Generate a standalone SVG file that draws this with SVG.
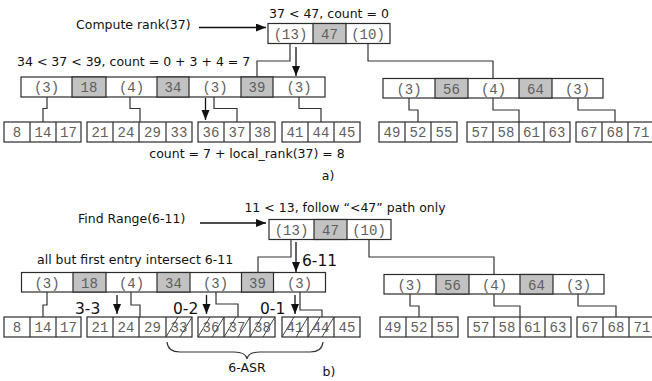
<svg xmlns="http://www.w3.org/2000/svg" width="652" height="381" viewBox="0 0 652 381">
  <style>
    .cell { fill: #ffffff; stroke: #2b2b2b; stroke-width: 1.2; }
    .key { fill: #c2c2c2; stroke: #2b2b2b; stroke-width: 1.2; }
    .div { stroke: #2b2b2b; stroke-width: 1.2; }
    .mono { font-family: "Liberation Mono", "DejaVu Sans Mono", monospace; font-size: 14px; fill: #5e5e5e; text-anchor: middle; }
    .lbl { font-family: "DejaVu Sans", Verdana, sans-serif; font-size: 12.5px; fill: #111; }
    .big { font-family: "DejaVu Sans", Verdana, sans-serif; font-size: 15.5px; fill: #111; }
    .wire { fill: none; stroke: #333; stroke-width: 1.2; }
    .arrow { fill: none; stroke: #111; stroke-width: 1.3; marker-end: url(#head); }
    .hatch { stroke: #333; stroke-width: 0.9; }
  </style>
  <defs>
    <marker id="head" markerUnits="userSpaceOnUse" markerWidth="12" markerHeight="10" refX="10" refY="4" orient="auto">
      <path d="M0,0 L10,4 L0,8 Z" fill="#111"/>
    </marker>
  </defs>

  <!-- ===================== a) rank query ===================== -->
  <g id="a-labels">
    <text class="lbl" x="329" y="17.5" text-anchor="middle">37 &lt; 47, count = 0</text>
    <text class="lbl" x="76" y="28.5">Compute rank(37)</text>
    <text class="lbl" x="17" y="66">34 &lt; 37 &lt; 39, count = 0 + 3 + 4 = 7</text>
    <text class="lbl" x="247" y="157.5" text-anchor="middle">count = 7 + local_rank(37) = 8</text>
    <text class="lbl" x="328" y="180" text-anchor="middle">a)</text>
  </g>

  <g id="a-root">
    <rect class="cell" x="268" y="23.5" width="122" height="20"/>
    <rect class="key" x="313" y="23.5" width="33" height="20"/>
    <text class="mono" x="290.5" y="38.5">(13)</text>
    <text class="mono" x="329.5" y="38.5">47</text>
    <text class="mono" x="368" y="38.5">(10)</text>
  </g>

  <g id="a-inner-left">
    <rect class="cell" x="21" y="77" width="304" height="20"/>
    <rect class="key" x="72" y="77" width="34" height="20"/>
    <rect class="key" x="157" y="77" width="32" height="20"/>
    <rect class="key" x="241" y="77" width="32" height="20"/>
    <text class="mono" x="46.5" y="92">(3)</text>
    <text class="mono" x="89" y="92">18</text>
    <text class="mono" x="131.5" y="92">(4)</text>
    <text class="mono" x="173" y="92">34</text>
    <text class="mono" x="215" y="92">(3)</text>
    <text class="mono" x="257" y="92">39</text>
    <text class="mono" x="299" y="92">(3)</text>
  </g>

  <g id="a-inner-right">
    <rect class="cell" x="383" y="78.5" width="220" height="19.5"/>
    <rect class="key" x="435" y="78.5" width="33" height="19.5"/>
    <rect class="key" x="519" y="78.5" width="33" height="19.5"/>
    <text class="mono" x="409" y="93.5">(3)</text>
    <text class="mono" x="451.5" y="93.5">56</text>
    <text class="mono" x="493.5" y="93.5">(4)</text>
    <text class="mono" x="535.5" y="93.5">64</text>
    <text class="mono" x="577.5" y="93.5">(3)</text>
  </g>

  <g id="a-leaf-1">
    <rect class="cell" x="4" y="122" width="77" height="20"/>
    <line class="div" x1="30" y1="122" x2="30" y2="142"/>
    <line class="div" x1="56" y1="122" x2="56" y2="142"/>
    <text class="mono" x="17" y="137">8</text>
    <text class="mono" x="43" y="137">14</text>
    <text class="mono" x="68.5" y="137">17</text>
  </g>
  <g id="a-leaf-2">
    <rect class="cell" x="87" y="122" width="105" height="20"/>
    <line class="div" x1="113" y1="122" x2="113" y2="142"/>
    <line class="div" x1="139" y1="122" x2="139" y2="142"/>
    <line class="div" x1="166" y1="122" x2="166" y2="142"/>
    <text class="mono" x="100" y="137">21</text>
    <text class="mono" x="126" y="137">24</text>
    <text class="mono" x="152.5" y="137">29</text>
    <text class="mono" x="179" y="137">33</text>
  </g>
  <g id="a-leaf-3">
    <rect class="cell" x="198" y="122" width="77" height="20"/>
    <line class="div" x1="224" y1="122" x2="224" y2="142"/>
    <line class="div" x1="250" y1="122" x2="250" y2="142"/>
    <text class="mono" x="211" y="137">36</text>
    <text class="mono" x="237" y="137">37</text>
    <text class="mono" x="262.5" y="137">38</text>
  </g>
  <g id="a-leaf-4">
    <rect class="cell" x="282" y="122" width="78" height="20"/>
    <line class="div" x1="308" y1="122" x2="308" y2="142"/>
    <line class="div" x1="334" y1="122" x2="334" y2="142"/>
    <text class="mono" x="295" y="137">41</text>
    <text class="mono" x="321" y="137">44</text>
    <text class="mono" x="347" y="137">45</text>
  </g>
  <g id="a-leaf-5">
    <rect class="cell" x="379" y="122" width="78" height="20"/>
    <line class="div" x1="405" y1="122" x2="405" y2="142"/>
    <line class="div" x1="431" y1="122" x2="431" y2="142"/>
    <text class="mono" x="392" y="137">49</text>
    <text class="mono" x="418" y="137">52</text>
    <text class="mono" x="444" y="137">55</text>
  </g>
  <g id="a-leaf-6">
    <rect class="cell" x="467" y="122" width="103" height="20"/>
    <line class="div" x1="493" y1="122" x2="493" y2="142"/>
    <line class="div" x1="519" y1="122" x2="519" y2="142"/>
    <line class="div" x1="544" y1="122" x2="544" y2="142"/>
    <text class="mono" x="480" y="137">57</text>
    <text class="mono" x="506" y="137">58</text>
    <text class="mono" x="531.5" y="137">61</text>
    <text class="mono" x="557" y="137">63</text>
  </g>
  <g id="a-leaf-7">
    <rect class="cell" x="576" y="122" width="79" height="20"/>
    <line class="div" x1="602" y1="122" x2="602" y2="142"/>
    <line class="div" x1="628" y1="122" x2="628" y2="142"/>
    <text class="mono" x="589" y="137">67</text>
    <text class="mono" x="615" y="137">68</text>
    <text class="mono" x="641" y="137">71</text>
  </g>

  <g id="a-connectors">
    <path class="wire" d="M290,43.5 V61 H257 V77"/>
    <path class="wire" d="M368,43.5 V61 H493 V78.5"/>
    <path class="wire" d="M47,97 V108.5 H43 V122"/>
    <path class="wire" d="M130,97 V108.5 H140 V122"/>
    <path class="wire" d="M214,97 V108.5 H237 V122"/>
    <path class="wire" d="M299,97 V108.5 H321 V122"/>
    <path class="wire" d="M409,98 V110 H418 V122"/>
    <path class="wire" d="M493,98 V110 H519 V122"/>
    <path class="wire" d="M578,98 V110 H615 V122"/>
    <path class="arrow" d="M199,27.5 H266"/>
    <path class="arrow" d="M296,47 V76"/>
    <path class="arrow" d="M205.5,98 V120"/>
  </g>

  <!-- ===================== b) range query ===================== -->
  <g id="b-labels">
    <text class="lbl" x="345" y="212" text-anchor="middle">11 &lt; 13, follow “&lt;47” path only</text>
    <text class="lbl" x="78" y="222.5">Find Range(6-11)</text>
    <text class="lbl" x="37" y="264">all but first entry intersect 6-11</text>
    <text class="big" x="302" y="266">6-11</text>
    <text class="big" x="75" y="314">3-3</text>
    <text class="big" x="173" y="314">0-2</text>
    <text class="big" x="260" y="314">0-1</text>
    <text class="lbl" x="247" y="371.5" text-anchor="middle">6-ASR</text>
    <text class="lbl" x="329" y="375.5" text-anchor="middle">b)</text>
  </g>

  <g id="b-root">
    <rect class="cell" x="269" y="219.5" width="122" height="20"/>
    <rect class="key" x="314" y="219.5" width="33" height="20"/>
    <text class="mono" x="291.5" y="234.5">(13)</text>
    <text class="mono" x="330.5" y="234.5">47</text>
    <text class="mono" x="369" y="234.5">(10)</text>
  </g>

  <g id="b-inner-left">
    <rect class="cell" x="21.5" y="272.5" width="304" height="19.5"/>
    <rect class="key" x="73" y="272.5" width="33" height="19.5"/>
    <rect class="key" x="157" y="272.5" width="33" height="19.5"/>
    <rect class="key" x="241.5" y="272.5" width="32" height="19.5"/>
    <text class="mono" x="47" y="287.5">(3)</text>
    <text class="mono" x="89.5" y="287.5">18</text>
    <text class="mono" x="131.5" y="287.5">(4)</text>
    <text class="mono" x="173.5" y="287.5">34</text>
    <text class="mono" x="215.5" y="287.5">(3)</text>
    <text class="mono" x="257.5" y="287.5">39</text>
    <text class="mono" x="299.5" y="287.5">(3)</text>
  </g>

  <g id="b-inner-right">
    <rect class="cell" x="384" y="274.5" width="220" height="19.5"/>
    <rect class="key" x="436" y="274.5" width="33" height="19.5"/>
    <rect class="key" x="520" y="274.5" width="33" height="19.5"/>
    <text class="mono" x="410" y="289.5">(3)</text>
    <text class="mono" x="452.5" y="289.5">56</text>
    <text class="mono" x="494.5" y="289.5">(4)</text>
    <text class="mono" x="536.5" y="289.5">64</text>
    <text class="mono" x="578.5" y="289.5">(3)</text>
  </g>

  <g id="b-leaf-1">
    <rect class="cell" x="4" y="317" width="77" height="20"/>
    <line class="div" x1="30" y1="317" x2="30" y2="337"/>
    <line class="div" x1="56" y1="317" x2="56" y2="337"/>
    <text class="mono" x="17" y="332">8</text>
    <text class="mono" x="43" y="332">14</text>
    <text class="mono" x="68.5" y="332">17</text>
  </g>
  <g id="b-leaf-2">
    <rect class="cell" x="87" y="317" width="105" height="20"/>
    <line class="div" x1="113" y1="317" x2="113" y2="337"/>
    <line class="div" x1="139" y1="317" x2="139" y2="337"/>
    <line class="div" x1="166" y1="317" x2="166" y2="337"/>
    <text class="mono" x="100" y="332">21</text>
    <text class="mono" x="126" y="332">24</text>
    <text class="mono" x="152.5" y="332">29</text>
    <text class="mono" x="179" y="332">33</text>
    <line class="hatch" x1="166" y1="337" x2="178" y2="317"/>
    <line class="hatch" x1="180" y1="337" x2="192" y2="317"/>
  </g>
  <g id="b-leaf-3">
    <rect class="cell" x="198" y="317" width="77" height="20"/>
    <line class="div" x1="224" y1="317" x2="224" y2="337"/>
    <line class="div" x1="250" y1="317" x2="250" y2="337"/>
    <text class="mono" x="211" y="332">36</text>
    <text class="mono" x="237" y="332">37</text>
    <text class="mono" x="262.5" y="332">38</text>
    <line class="hatch" x1="198" y1="337" x2="210" y2="317"/>
    <line class="hatch" x1="212" y1="337" x2="224" y2="317"/>
    <line class="hatch" x1="224" y1="337" x2="236" y2="317"/>
    <line class="hatch" x1="238" y1="337" x2="250" y2="317"/>
    <line class="hatch" x1="250" y1="337" x2="262" y2="317"/>
    <line class="hatch" x1="263" y1="337" x2="275" y2="317"/>
  </g>
  <g id="b-leaf-4">
    <rect class="cell" x="282" y="317" width="78" height="20"/>
    <line class="div" x1="308" y1="317" x2="308" y2="337"/>
    <line class="div" x1="334" y1="317" x2="334" y2="337"/>
    <text class="mono" x="295" y="332">41</text>
    <text class="mono" x="321" y="332">44</text>
    <text class="mono" x="347" y="332">45</text>
    <line class="hatch" x1="282" y1="337" x2="294" y2="317"/>
    <line class="hatch" x1="296" y1="337" x2="308" y2="317"/>
    <line class="hatch" x1="308" y1="337" x2="320" y2="317"/>
    <line class="hatch" x1="322" y1="337" x2="334" y2="317"/>
  </g>
  <g id="b-leaf-5">
    <rect class="cell" x="380" y="317" width="78" height="20"/>
    <line class="div" x1="406" y1="317" x2="406" y2="337"/>
    <line class="div" x1="432" y1="317" x2="432" y2="337"/>
    <text class="mono" x="393" y="332">49</text>
    <text class="mono" x="419" y="332">52</text>
    <text class="mono" x="445" y="332">55</text>
  </g>
  <g id="b-leaf-6">
    <rect class="cell" x="468" y="317" width="103" height="20"/>
    <line class="div" x1="494" y1="317" x2="494" y2="337"/>
    <line class="div" x1="520" y1="317" x2="520" y2="337"/>
    <line class="div" x1="545" y1="317" x2="545" y2="337"/>
    <text class="mono" x="481" y="332">57</text>
    <text class="mono" x="507" y="332">58</text>
    <text class="mono" x="532.5" y="332">61</text>
    <text class="mono" x="558" y="332">63</text>
  </g>
  <g id="b-leaf-7">
    <rect class="cell" x="577" y="317" width="79" height="20"/>
    <line class="div" x1="603" y1="317" x2="603" y2="337"/>
    <line class="div" x1="629" y1="317" x2="629" y2="337"/>
    <text class="mono" x="590" y="332">67</text>
    <text class="mono" x="616" y="332">68</text>
    <text class="mono" x="642" y="332">71</text>
  </g>

  <g id="b-connectors">
    <path class="wire" d="M291,239.5 V257 H258 V272.5"/>
    <path class="wire" d="M369,239.5 V257 H494 V274.5"/>
    <path class="wire" d="M47,292 V305 H43 V317"/>
    <path class="wire" d="M131,292 V305 H140 V317"/>
    <path class="wire" d="M216,292 V304 H238 V317"/>
    <path class="wire" d="M300,292 V310 H322 V317"/>
    <path class="wire" d="M410,294 V306 H419 V317"/>
    <path class="wire" d="M494,294 V306 H520 V317"/>
    <path class="wire" d="M578,294 V306 H616 V317"/>
    <path class="arrow" d="M200,223 H266"/>
    <path class="arrow" d="M296,242 V272"/>
    <path class="arrow" d="M117,295 V314"/>
    <path class="arrow" d="M206.5,295 V314"/>
    <path class="arrow" d="M295,295 V314"/>
    <path class="wire" d="M167,342 Q168,352 180,352 H234 Q246,352 247,359 Q248,352 260,352 H310 Q322,352 323,342"/>
  </g>
</svg>
